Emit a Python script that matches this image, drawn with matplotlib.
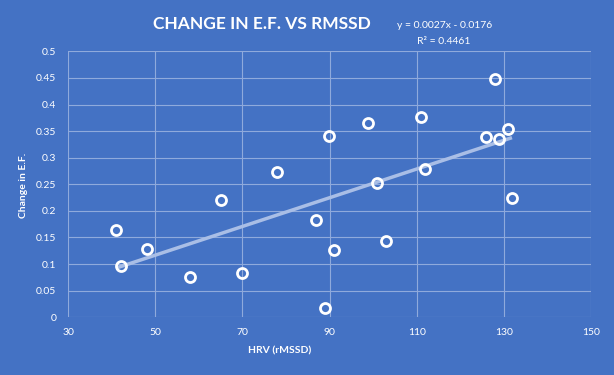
import numpy as np
import matplotlib
matplotlib.use("Agg")
import matplotlib.pyplot as plt

hrv = [41.0, 42.0, 48.0, 58.0, 65.1, 69.8, 78.0, 86.8, 89.9, 89.0, 91.0,
       98.9, 100.9, 103.0, 111.0, 111.9, 125.9, 128.0, 128.9, 131.0, 131.9]
ef_change = [0.164, 0.096, 0.128, 0.076, 0.221, 0.083, 0.273, 0.183, 0.341, 0.018, 0.127,
             0.365, 0.253, 0.143, 0.377, 0.279, 0.339, 0.448, 0.335, 0.354, 0.224]
x_ticks = [30, 50, 70, 90, 110, 130, 150]
y_ticks = [0, 0.05, 0.1, 0.15, 0.2, 0.25, 0.3, 0.35, 0.4, 0.45, 0.5]
y_tick_labels = ["0", "0.05", "0.1", "0.15", "0.2", "0.25", "0.3", "0.35", "0.4", "0.45", "0.5"]
title = "CHANGE IN E.F. VS RMSSD"
eq_text = "y = 0.0027x - 0.0176"
r2_text = "R² = 0.4461"

BG = "#4472C4"
plt.rcParams['font.family'] = ['Lato', 'DejaVu Sans']

fig = plt.figure(figsize=(6.14, 3.75), dpi=100, facecolor=BG)
ax = fig.add_axes([0.1112, 0.154, 0.851, 0.709])
ax.set_facecolor(BG)

x = np.array(hrv)
y = np.array(ef_change)
m, b = np.polyfit(x, y, 1)
xs = np.array([x.min(), x.max()])
ax.plot(xs, m * xs + b, color="#A9BEE6", lw=2.5, solid_capstyle="butt", zorder=2)
ax.plot(x, y, linestyle="none", marker="o", markersize=7.2, markerfacecolor="none",
        markeredgecolor="white", markeredgewidth=2.0, zorder=3)

ax.set_xlim(30, 150)
ax.set_ylim(0, 0.5)
ax.set_xticks(x_ticks)
ax.set_yticks(y_ticks)
ax.set_yticklabels(y_tick_labels)
ax.grid(True, color="#8FAADC", lw=0.8)
ax.set_axisbelow(True)
for s in ax.spines.values():
    s.set_visible(False)
ax.tick_params(length=0, colors="white", labelsize=7.5)
ax.tick_params(axis="x", pad=8)
ax.tick_params(axis="y", pad=8.5)

fig.text(280 / 614, 1 - 351 / 375, "HRV (rMSSD)", ha="center", va="center",
         color="white", fontsize=7.5, fontweight="bold")
fig.text(24 / 614, 1 - 185 / 375, "Change in E.F.", ha="center", va="center",
         rotation=90, color="white", fontsize=7.5, fontweight="bold")
fig.text(261.5 / 614, 1 - 24 / 375, title, ha="center", va="center",
         color="white", fontsize=12.5, fontweight="bold")
fig.text(445 / 614, 1 - 26 / 375, eq_text, ha="center", va="center",
         color="white", fontsize=7.5)
fig.text(444 / 614, 1 - 41 / 375, r2_text, ha="center", va="center",
         color="white", fontsize=7.5)

fig.savefig("out.png", dpi=100, facecolor=BG)
